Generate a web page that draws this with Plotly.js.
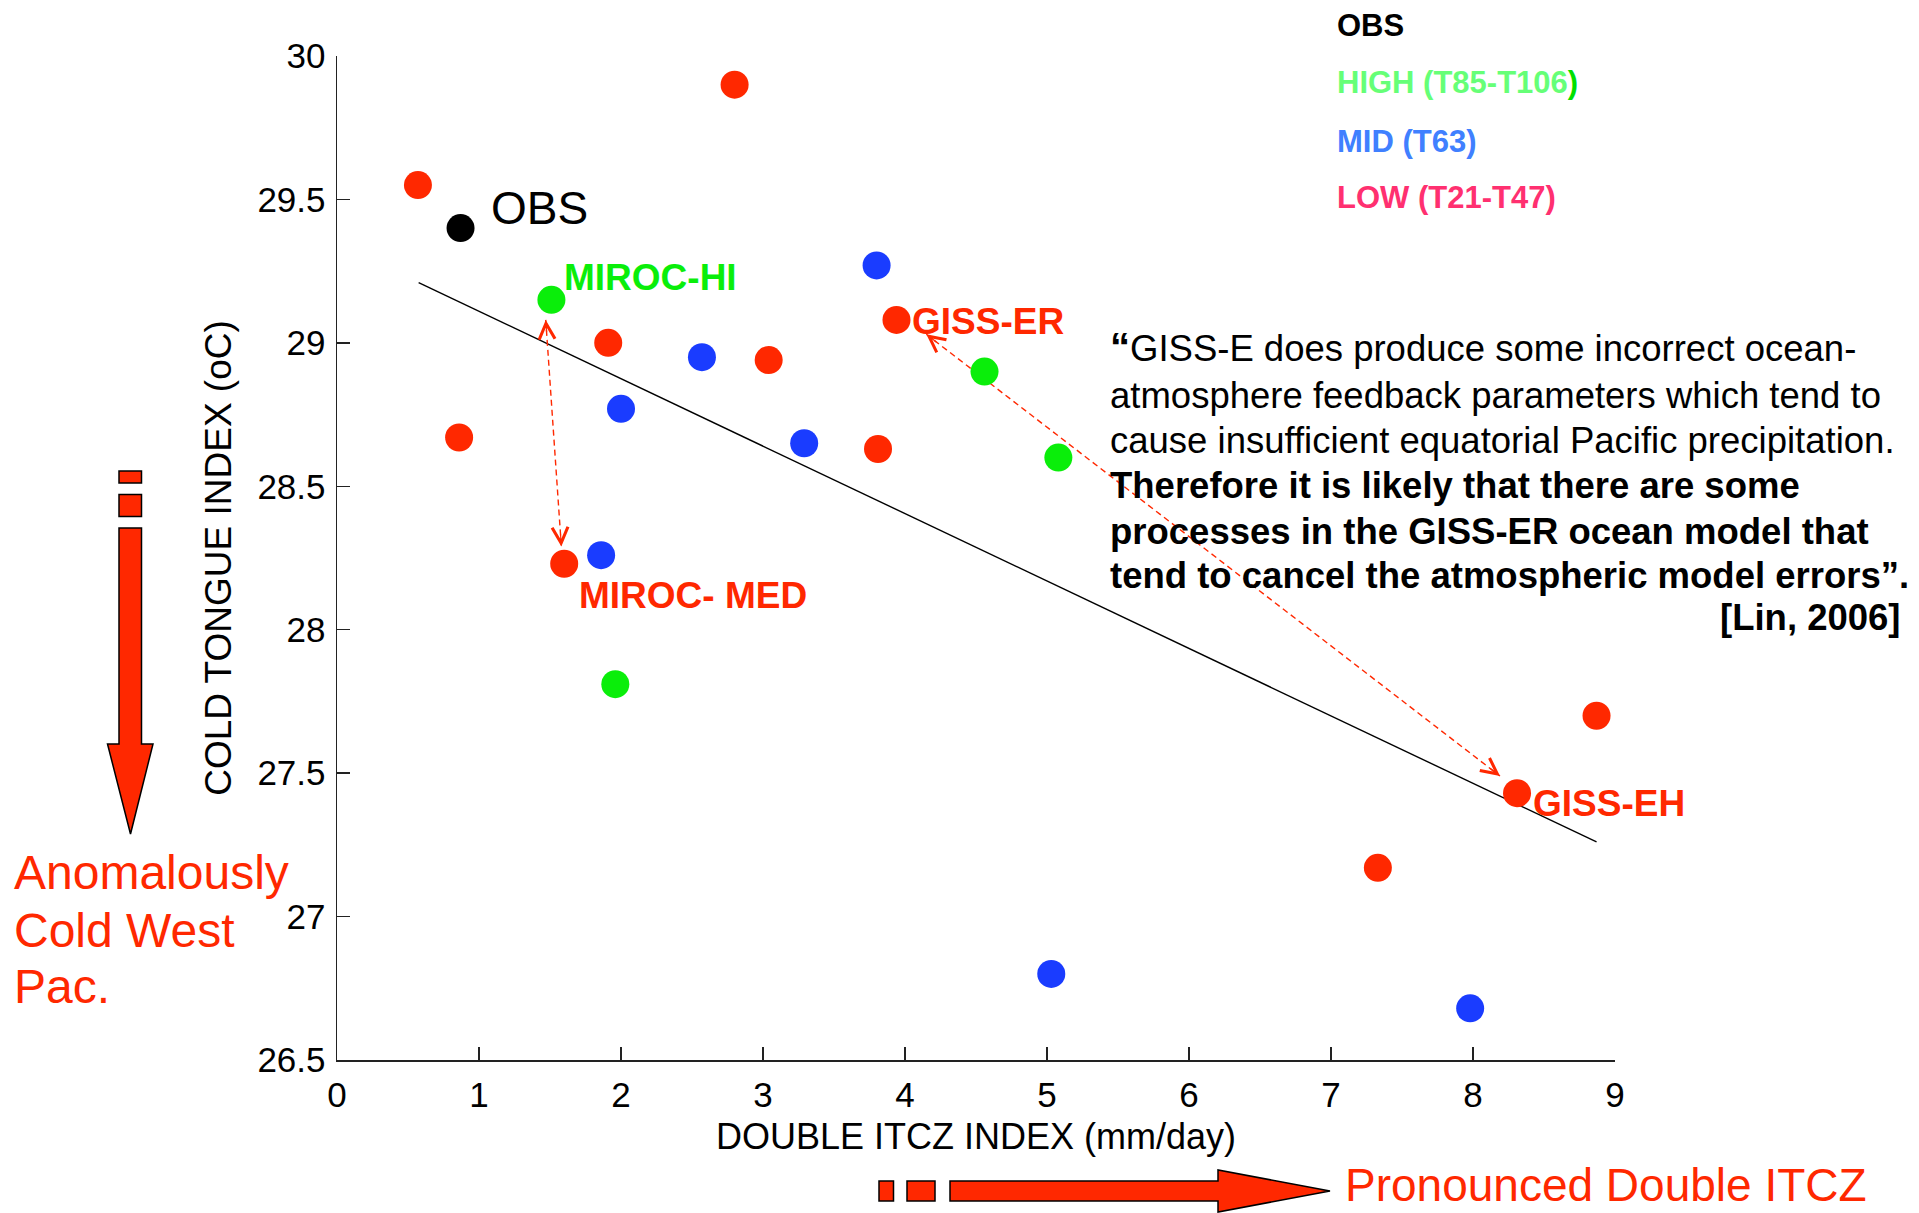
<!DOCTYPE html>
<html>
<head>
<meta charset="utf-8">
<script src="https://cdn.plot.ly/plotly-3.0.1.min.js"></script>
<style>html,body{margin:0;padding:0;background:#fff;}#chart{width:1919px;height:1213px;}</style>
</head>
<body>
<div id="chart"></div>
<script>
// ---- data ----
const lowX  = [0.57, 2.80, 0.86, 1.91, 1.60, 3.04, 3.81, 3.94, 8.31, 7.33, 8.87];
const lowY  = [29.55, 29.90, 28.67, 29.00, 28.23, 28.94, 28.63, 29.08, 27.43, 27.17, 27.70];
const midX  = [3.80, 2.57, 2.00, 3.29, 1.86, 5.03, 7.98];
const midY  = [29.27, 28.95, 28.77, 28.65, 28.26, 26.80, 26.68];
const highX = [1.51, 4.56, 5.08, 1.96];
const highY = [29.15, 28.90, 28.60, 27.81];
const obsX  = [0.87];
const obsY  = [29.40];
const fitX  = [0.575, 8.87];
const fitY  = [29.21, 27.26];
const miroArrowX = [1.47, 1.58];
const miroArrowY = [29.08, 28.29];
const gissArrowX = [4.15, 8.19];
const gissArrowY = [29.03, 27.49];
const xTicks = [0,1,2,3,4,5,6,7,8,9];
const yTicks = [26.5,27,27.5,28,28.5,29,29.5,30];

const FONT = 'Liberation Sans, Arial, Helvetica, sans-serif';
const RED = '#ff2800', BLUE = '#1a3cff', GREEN = '#0aee0a';

// plot-area pixel frame
const L = 337, R = 1615, T = 56, B = 1060;
const px = x => (x - L) / (R - L);
const py = y => (B - y) / (B - T);

const traces = [
  {x: fitX, y: fitY, mode: 'lines', line: {color: '#000', width: 1.4}, hoverinfo: 'skip'},
  {x: miroArrowX, y: miroArrowY, mode: 'lines', line: {color: RED, width: 1.4, dash: '6px,4px'}},
  {x: gissArrowX, y: gissArrowY, mode: 'lines', line: {color: RED, width: 1.4, dash: '6px,4px'}},
  {x: lowX, y: lowY, mode: 'markers', name: 'LOW (T21-T47)', marker: {size: 28, color: RED}},
  {x: midX, y: midY, mode: 'markers', name: 'MID (T63)', marker: {size: 28, color: BLUE}},
  {x: highX, y: highY, mode: 'markers', name: 'HIGH (T85-T106)', marker: {size: 28, color: GREEN}},
  {x: obsX, y: obsY, mode: 'markers', name: 'OBS', marker: {size: 28, color: '#000'}}
];

function head(xs, ys, i, frac) {
  const j = 1 - i;
  return {
    x: xs[i], y: ys[i], xref: 'x', yref: 'y',
    ax: xs[i] + frac * (xs[j] - xs[i]), ay: ys[i] + frac * (ys[j] - ys[i]),
    axref: 'x', ayref: 'y', text: '', showarrow: true,
    arrowhead: 5, arrowsize: 2.6, arrowwidth: 1.2, arrowcolor: RED, standoff: 0
  };
}

function txt(text, x, y, size, color, opts) {
  return Object.assign({
    text: text, x: px(x), y: py(y), xref: 'paper', yref: 'paper',
    xanchor: 'left', yanchor: 'middle', showarrow: false, borderpad: 0,
    font: {family: FONT, size: size, color: color}
  }, opts || {});
}

const Q = 36.5;
const annotations = [
  head(miroArrowX, miroArrowY, 0, 0.06),
  head(miroArrowX, miroArrowY, 1, 0.06),
  head(gissArrowX, gissArrowY, 0, 0.02),
  head(gissArrowX, gissArrowY, 1, 0.02),
  // point labels
  txt('OBS', 490, 208, 46, '#000'),
  txt('<b>MIROC-HI</b>', 563, 277, 37, GREEN),
  txt('<b>MIROC- MED</b>', 578, 595, 37, RED),
  txt('<b>GISS-ER</b>', 911, 321, 37, RED),
  txt('<b>GISS-EH</b>', 1532, 803, 37, RED),
  // legend
  txt('<b>OBS</b>', 1336, 25, 31, '#000'),
  txt('<b>HIGH (T85-T106</b><b><span style="color:#00e000">)</span></b>', 1336, 83, 31, '#66ff77'),
  txt('<b>MID (T63)</b>', 1336, 141, 31, '#4080ff'),
  txt('<b>LOW (T21-T47)</b>', 1336, 198, 31, '#ff3070'),
  // quote
  txt('<b><span style="font-size:40px">“</span></b>GISS-E does produce some incorrect ocean-', 1109, 347, Q, '#000'),
  txt('atmosphere feedback parameters which tend to', 1109, 395, Q, '#000'),
  txt('cause insufficient equatorial Pacific precipitation.', 1109, 440, Q, '#000'),
  txt('<b>Therefore it is likely that there are some</b>', 1109, 486, Q, '#000'),
  txt('<b>processes in the GISS-ER ocean model that</b>', 1109, 531, Q, '#000'),
  txt('<b>tend to cancel the atmospheric model errors”.</b>', 1109, 575, Q, '#000'),
  txt('<b>[Lin, 2006]</b>', 1902, 617, Q, '#000', {xanchor: 'right'}),
  // side notes
  txt('Anomalously', 13, 872, 48, RED),
  txt('Cold West', 13, 930, 48, RED),
  txt('Pac.', 13, 986, 48, RED),
  txt('Pronounced Double ITCZ', 1344, 1185, 46, RED)
];

function poly(pts) {
  return pts.map((p, k) => (k ? 'L' : 'M') + px(p[0]) + ',' + py(p[1])).join(' ') + ' Z';
}
const blk = {type: 'path', xref: 'paper', yref: 'paper', fillcolor: RED, line: {color: '#000', width: 1.5}, layer: 'above'};
const shapes = [
  Object.assign({path: poly([[119,471],[141.5,471],[141.5,483],[119,483]])}, blk),
  Object.assign({path: poly([[119,494.5],[141.5,494.5],[141.5,516.5],[119,516.5]])}, blk),
  Object.assign({path: poly([[119,528],[141.5,528],[141.5,744],[153,744],[130.5,834],[107.5,744],[119,744]])}, blk),
  Object.assign({path: poly([[879,1181],[893.5,1181],[893.5,1201],[879,1201]])}, blk),
  Object.assign({path: poly([[907,1181],[935,1181],[935,1201],[907,1201]])}, blk),
  Object.assign({path: poly([[950,1181],[1218,1181],[1218,1170],[1330,1191],[1218,1212],[1218,1201],[950,1201]])}, blk)
];

const axisCommon = {
  showgrid: false, zeroline: false, showline: true, mirror: false,
  linecolor: '#222', linewidth: 1.5, ticks: 'inside', ticklen: 13, tickwidth: 1.5, tickcolor: '#222',
  tickfont: {family: FONT, size: 35, color: '#000'}, automargin: false
};

const layout = {
  width: 1919, height: 1213,
  margin: {l: L, r: 1919 - R, t: T, b: 1213 - B, pad: 0},
  paper_bgcolor: '#fff', plot_bgcolor: '#fff',
  showlegend: false,
  xaxis: Object.assign({}, axisCommon, {
    range: [0, 9], tickmode: 'array', tickvals: xTicks, ticktext: xTicks.map(String),
    ticklabelstandoff: 3,
    title: {text: 'DOUBLE ITCZ INDEX (mm/day)', font: {family: FONT, size: 36, color: '#000'}, standoff: 11}
  }),
  yaxis: Object.assign({}, axisCommon, {
    range: [26.5, 30], tickmode: 'array', tickvals: yTicks, ticktext: yTicks.map(String),
    ticklabelstandoff: 3,
    title: {text: 'COLD TONGUE INDEX (oC)', font: {family: FONT, size: 37, color: '#000'}, standoff: 14}
  }),
  annotations: annotations,
  shapes: shapes
};

Plotly.newPlot('chart', traces, layout, {displayModeBar: false, staticPlot: true});
</script>
</body>
</html>
